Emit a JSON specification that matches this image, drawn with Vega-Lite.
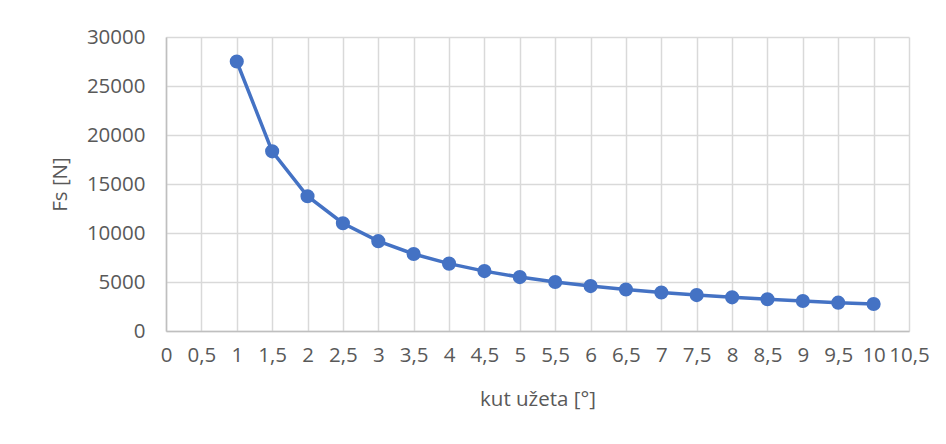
{
  "$schema": "https://vega.github.io/schema/vega-lite/v6.json",
  "autosize": "none",
  "width": 743,
  "height": 294,
  "padding": {"left": 166, "top": 37, "right": 37, "bottom": 113},
  "background": "white",
  "data": {
    "values": [
      {"kut": 1, "Fs": 27500},
      {"kut": 1.5, "Fs": 18333},
      {"kut": 2, "Fs": 13750},
      {"kut": 2.5, "Fs": 11000},
      {"kut": 3, "Fs": 9167},
      {"kut": 3.5, "Fs": 7857},
      {"kut": 4, "Fs": 6875},
      {"kut": 4.5, "Fs": 6111},
      {"kut": 5, "Fs": 5500},
      {"kut": 5.5, "Fs": 5000},
      {"kut": 6, "Fs": 4583},
      {"kut": 6.5, "Fs": 4231},
      {"kut": 7, "Fs": 3929},
      {"kut": 7.5, "Fs": 3667},
      {"kut": 8, "Fs": 3438},
      {"kut": 8.5, "Fs": 3235},
      {"kut": 9, "Fs": 3056},
      {"kut": 9.5, "Fs": 2895},
      {"kut": 10, "Fs": 2750}
    ]
  },
  "config": {
    "font": "Open Sans",
    "view": {"stroke": null},
    "axis": {
      "labelFont": "Open Sans",
      "titleFont": "Open Sans",
      "labelFontSize": 20.5,
      "titleFontSize": 20.5,
      "labelColor": "#595959",
      "titleColor": "#595959",
      "titleFontWeight": "normal",
      "gridColor": "#D9D9D9",
      "gridWidth": 1.5,
      "domainColor": "#BFBFBF",
      "domainWidth": 1.5,
      "ticks": false
    }
  },
  "encoding": {
    "x": {
      "field": "kut",
      "type": "quantitative",
      "title": "kut užeta [°]",
      "scale": {"domain": [0, 10.5], "nice": false, "zero": true},
      "axis": {
        "values": [0, 0.5, 1, 1.5, 2, 2.5, 3, 3.5, 4, 4.5, 5, 5.5, 6, 6.5, 7, 7.5, 8, 8.5, 9, 9.5, 10, 10.5],
        "format": "~g",
        "labelExpr": "replace(datum.label, '.', ',')",
        "labelOverlap": false,
        "labelFlush": false,
        "labelPadding": 14,
        "titlePadding": 24
      }
    },
    "y": {
      "field": "Fs",
      "type": "quantitative",
      "title": "Fs [N]",
      "scale": {"domain": [0, 30000], "nice": false},
      "axis": {
        "values": [0, 5000, 10000, 15000, 20000, 25000, 30000],
        "format": "d",
        "labelPadding": 21,
        "titlePadding": 16
      }
    }
  },
  "layer": [
    {"mark": {"type": "line", "color": "#4472C4", "strokeWidth": 3.5}},
    {"mark": {"type": "point", "filled": true, "color": "#4472C4", "size": 200, "opacity": 1}}
  ]
}
